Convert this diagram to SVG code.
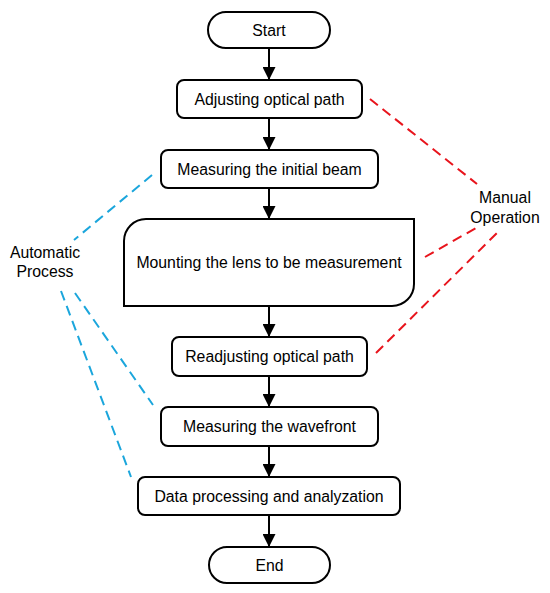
<svg xmlns="http://www.w3.org/2000/svg" width="550" height="593" viewBox="0 0 550 593">
<style>
.box{fill:#fff;stroke:#000;stroke-width:2}
.t{font-family:"Liberation Sans",Arial,sans-serif;font-size:15.8px;fill:#000;text-anchor:middle}
.flow{stroke:#000;stroke-width:2;fill:none;marker-end:url(#ah)}
.red{stroke:#e8141c;stroke-width:2;stroke-dasharray:10,6;fill:none}
.blue{stroke:#1ba6dc;stroke-width:2;stroke-dasharray:10,6;fill:none}
</style>
<defs>
<marker id="ah" viewBox="0 0 12 12" refX="12" refY="6" markerWidth="6.5" markerHeight="6.5" orient="auto" markerUnits="strokeWidth">
<path d="M0,0 L12,6 L0,12 z" fill="#000"/>
</marker>
</defs>
<rect width="550" height="593" fill="#fff"/>
<g id="connectors">
<line class="flow" x1="269" y1="48" x2="269" y2="80"/>
<line class="flow" x1="269" y1="118" x2="269" y2="150"/>
<line class="flow" x1="269" y1="188" x2="269" y2="219"/>
<line class="flow" x1="269" y1="306" x2="269" y2="337"/>
<line class="flow" x1="269" y1="376" x2="269" y2="407"/>
<line class="flow" x1="269" y1="446" x2="269" y2="477"/>
<line class="flow" x1="269" y1="515" x2="269" y2="547"/>
<line class="red" x1="370" y1="99" x2="477" y2="184"/>
<line class="red" x1="425" y1="257" x2="476" y2="228"/>
<line class="red" x1="376" y1="353" x2="497" y2="233"/>
<line class="blue" x1="152" y1="175" x2="74" y2="240"/>
<line class="blue" x1="75" y1="293" x2="153" y2="405"/>
<line class="blue" x1="61" y1="291" x2="131" y2="477"/>
</g>
<g id="start">
<rect class="box" x="208" y="12" width="122" height="36" rx="18"/>
<text class="t" x="269" y="35.5">Start</text>
</g>
<g id="adjust">
<rect class="box" x="177" y="80" width="185" height="38" rx="7"/>
<text class="t" x="269.5" y="104.5">Adjusting optical path</text>
</g>
<g id="measure-beam">
<rect class="box" x="161" y="150" width="217" height="38" rx="7"/>
<text class="t" x="269.5" y="174.5">Measuring the initial beam</text>
</g>
<g id="mount">
<path class="box" d="M146,219 H414 V284 A22,22 0 0 1 392,306 H124 V241 A22,22 0 0 1 146,219 Z"/>
<text class="t" x="269" y="267.5">Mounting the lens to be measurement</text>
</g>
<g id="readjust">
<rect class="box" x="172" y="337" width="195" height="39" rx="7"/>
<text class="t" x="269.5" y="362">Readjusting optical path</text>
</g>
<g id="measure-wave">
<rect class="box" x="161" y="407" width="217" height="39" rx="7"/>
<text class="t" x="269.5" y="432">Measuring the wavefront</text>
</g>
<g id="data">
<rect class="box" x="138" y="477" width="262" height="38" rx="7"/>
<text class="t" x="269" y="501.5">Data processing and analyzation</text>
</g>
<g id="end">
<rect class="box" x="209" y="547" width="121" height="36" rx="18"/>
<text class="t" x="269.5" y="570.5">End</text>
</g>
<g id="manual">
<text class="t" x="505" y="203">Manual</text>
<text class="t" x="505" y="222.5">Operation</text>
</g>
<g id="automatic">
<text class="t" x="45" y="258">Automatic</text>
<text class="t" x="45" y="277">Process</text>
</g>
</svg>
